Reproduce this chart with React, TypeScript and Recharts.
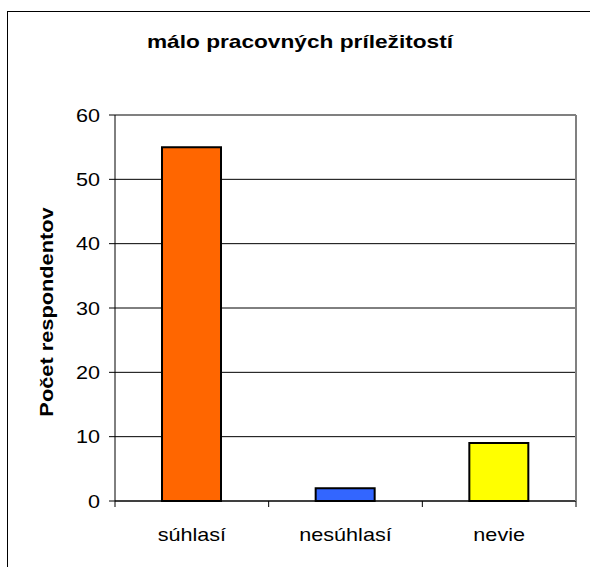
import React from 'react';
import { BarChart, Bar, XAxis, YAxis, CartesianGrid, Cell, ReferenceLine } from 'recharts';

const categories = ['súhlasí', 'nesúhlasí', 'nevie'];
const counts = [55, 2, 9];
const barColors = ['#FF6600', '#3366FF', '#FFFF00'];
const yTicks = [0, 10, 20, 30, 40, 50, 60];

const title = 'málo pracovných príležitostí';
const yTitle = 'Počet respondentov';

const FONT = '"Liberation Sans", Arial, sans-serif';
// the original text is drawn wider than the font's own metrics
const STRETCH = 1.2;
const X_TICK_SIZE = 6;
const X_TICK_MARGIN = 8;

const data = categories.map((name, i) => ({ name, count: counts[i] }));

const CategoryTick = (props: any) => {
  const { x, y, payload, index, width } = props;
  const half = payload?.offset ?? width / categories.length / 2;
  const axisY = y - X_TICK_SIZE - X_TICK_MARGIN;
  return (
    <g>
      <line x1={x - half} x2={x - half} y1={axisY} y2={axisY + X_TICK_SIZE} stroke="#000" />
      {index === categories.length - 1 && (
        <line x1={x + half} x2={x + half} y1={axisY} y2={axisY + X_TICK_SIZE} stroke="#000" />
      )}
      <text
        transform={`translate(${x},${y}) scale(${STRETCH},1)`}
        dy={26}
        textAnchor="middle"
        fontFamily={FONT}
        fontSize={18}
        fill="#000"
      >
        {payload.value}
      </text>
    </g>
  );
};

const ValueTick = (props: any) => {
  const { x, y, payload } = props;
  return (
    <text
      transform={`translate(${x},${y}) scale(${STRETCH},1)`}
      dy={6.5}
      textAnchor="end"
      fontFamily={FONT}
      fontSize={18}
      fill="#000"
    >
      {payload.value}
    </text>
  );
};

export default function App() {
  return (
    <div style={{ position: 'absolute', left: 0, top: 0, width: 590, height: 567, overflow: 'hidden', background: '#fff' }}>
      <svg width={590} height={567} style={{ position: 'absolute', left: 0, top: 0 }}>
        <rect x={7.5} y={11.5} width={700} height={700} fill="none" stroke="#000" />
        <text
          transform={`translate(300,48) scale(1.26,1)`}
          textAnchor="middle"
          fontFamily={FONT}
          fontWeight="bold"
          fontSize={18}
          fill="#000"
        >
          {title}
        </text>
        <text
          transform={`translate(53,312) rotate(-90) scale(1.21,1)`}
          textAnchor="middle"
          fontFamily={FONT}
          fontWeight="bold"
          fontSize={18}
          fill="#000"
        >
          {yTitle}
        </text>
      </svg>
      <div style={{ position: 'absolute', left: 0, top: 0 }}>
        <BarChart width={590} height={567} data={data} margin={{ top: 115, right: 13, left: 0, bottom: 0 }}>
          <CartesianGrid vertical={false} stroke="#000" yAxisId="left" />
          <XAxis
            dataKey="name"
            height={66}
            axisLine={{ stroke: '#000' }}
            tickLine={false}
            tickSize={X_TICK_SIZE}
            tickMargin={X_TICK_MARGIN}
            tick={<CategoryTick />}
            interval={0}
          />
          <YAxis
            yAxisId="left"
            width={115}
            domain={[0, 60]}
            ticks={yTicks}
            interval={0}
            axisLine={{ stroke: '#000' }}
            tickLine={{ stroke: '#000' }}
            tickSize={6}
            tickMargin={9}
            tick={<ValueTick />}
          />
          <YAxis
            yAxisId="right"
            orientation="right"
            width={1}
            domain={[0, 60]}
            ticks={yTicks}
            tick={false}
            tickLine={false}
            axisLine={{ stroke: '#808080', strokeWidth: 2 }}
          />
          <ReferenceLine yAxisId="left" y={60} stroke="#808080" strokeWidth={2} />
          <Bar dataKey="count" yAxisId="left" barSize={59} stroke="#000" strokeWidth={2} isAnimationActive={false}>
            {data.map((d, i) => (
              <Cell key={d.name} fill={barColors[i]} />
            ))}
          </Bar>
        </BarChart>
      </div>
    </div>
  );
}
